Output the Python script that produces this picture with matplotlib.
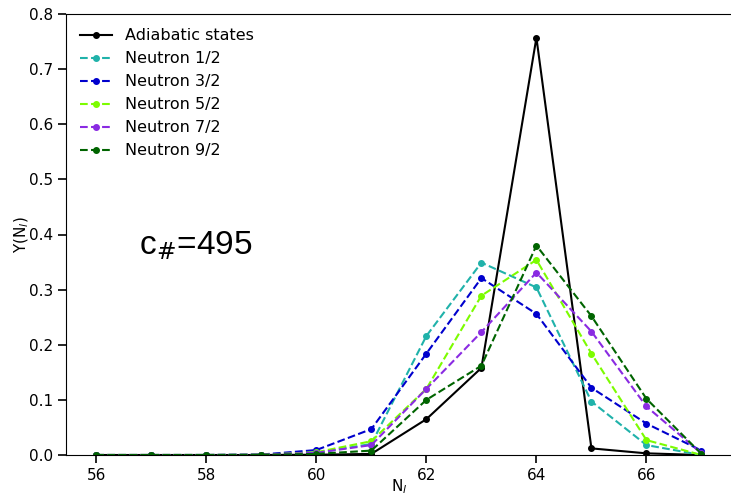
import matplotlib
matplotlib.use("Agg")
import matplotlib.pyplot as plt

N = [56, 57, 58, 59, 60, 61, 62, 63, 64, 65, 66, 67]
adiabatic = [0.0, 0.0, 0.0, 0.0, 0.0005, 0.002, 0.065, 0.158, 0.757, 0.012, 0.003, 0.0]
n12 = [0.0, 0.0, 0.0, 0.0005, 0.004, 0.020, 0.216, 0.349, 0.304, 0.097, 0.018, 0.0]
n32 = [0.0, 0.0, 0.0, 0.0008, 0.009, 0.047, 0.184, 0.321, 0.256, 0.122, 0.057, 0.008]
n52 = [0.0, 0.0, 0.0, 0.0005, 0.005, 0.025, 0.120, 0.289, 0.354, 0.184, 0.027, 0.0]
n72 = [0.0, 0.0, 0.0, 0.0005, 0.004, 0.018, 0.120, 0.223, 0.331, 0.224, 0.088, 0.003]
n92 = [0.0, 0.0, 0.0, 0.0003, 0.002, 0.008, 0.100, 0.162, 0.380, 0.252, 0.102, 0.002]

series = [
    ("Neutron 1/2", n12, "#20B2AA"),
    ("Neutron 3/2", n32, "#0000CD"),
    ("Neutron 5/2", n52, "#7CFC00"),
    ("Neutron 7/2", n72, "#8A2BE2"),
    ("Neutron 9/2", n92, "#006400"),
]

fig = plt.figure(figsize=(7.31, 4.95), dpi=100)
ax = fig.add_axes([66/731, 40/495, 1 - 66/731 + 0.001, 441/495])
ax.plot(N, adiabatic, "-o", color="black", markersize=4, label="Adiabatic states")
for name, vals, col in series:
    ax.plot(N, vals, "--o", color=col, markersize=4, label=name)

ax.set_ylim(0, 0.8)
ax.set_xticks([56, 58, 60, 62, 64, 66])
ax.tick_params(axis="both", labelsize=11, length=6, width=1.2)
ax.set_xlabel("N$_l$", fontsize=11, labelpad=-4)
ax.set_ylabel("Y(N$_l$)", fontsize=11, labelpad=-1.5)
ax.text(56.78, 0.38, "c$_{\\#}$=495", fontsize=24, va="center", ha="left",
        family="Liberation Sans")
ax.legend(loc="upper left", frameon=False, fontsize=11.5, handlelength=2.0)
fig.savefig("out.png", dpi=100)
